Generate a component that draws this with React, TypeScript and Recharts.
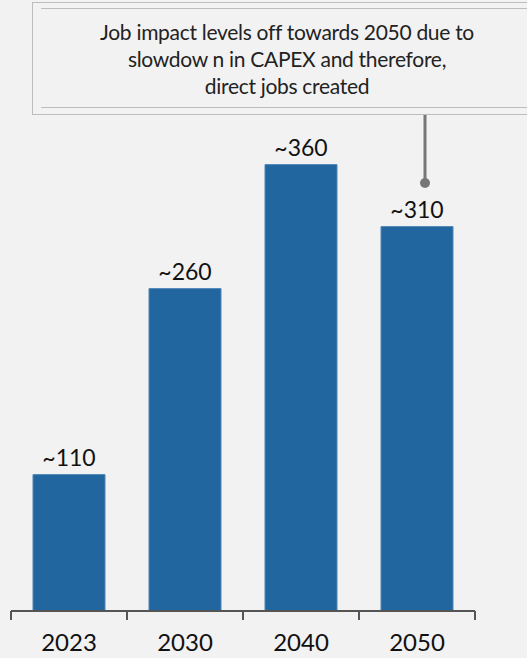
import { BarChart, Bar, XAxis, YAxis, LabelList } from "recharts";

const years = ["2023", "2030", "2040", "2050"];
const jobs = [110, 260, 360, 310];
const labels = ["~110", "~260", "~360", "~310"];
const noteLines = [
  "Job impact levels off towards 2050 due to",
  "slowdow n in CAPEX and therefore,",
  "direct jobs created",
];

const data = years.map((year, i) => ({ year, jobs: jobs[i], label: labels[i] }));

const FONT = "Lato, 'Open Sans', sans-serif";

function YearTick(props: any) {
  const { x, y, payload, index, visibleTicksCount, width } = props;
  const half = payload.offset || width / visibleTicksCount / 2;
  const axisY = y - 8;
  return (
    <g>
      <line x1={x - half} x2={x - half} y1={axisY} y2={axisY + 9} stroke="#555" strokeWidth={2} />
      {index === visibleTicksCount - 1 && (
        <line x1={x + half} x2={x + half} y1={axisY} y2={axisY + 9} stroke="#555" strokeWidth={2} />
      )}
      <text x={x} y={axisY + 40} textAnchor="middle" fontSize={24} fill="#111" fontFamily={FONT}>
        {payload.value}
      </text>
    </g>
  );
}

export default function App() {
  return (
    <div style={{ position: "absolute", left: 0, top: 0, width: 527, height: 658, background: "#f2f2f2", overflow: "hidden" }}>
      <BarChart width={527} height={658} data={data} margin={{ top: 115, right: 52, left: 11, bottom: 17 }}>
        <YAxis hide domain={[0, 400]} />
        <XAxis
          dataKey="year"
          height={30}
          axisLine={{ stroke: "#555", strokeWidth: 2 }}
          tickLine={false}
          tick={<YearTick />}
          interval={0}
        />
        <Bar dataKey="jobs" fill="#22669f" stroke="#4f86b8" strokeWidth={1} barSize={72} isAnimationActive={false}>
          <LabelList dataKey="label" position="top" offset={9} fontSize={23} fill="#111" fontFamily={FONT} />
        </Bar>
      </BarChart>

      {/* annotation box */}
      <div
        style={{
          position: "absolute", left: 32, top: 2, width: 520, height: 113,
          border: "1px solid #bdbdbd", background: "#f2f2f2", boxSizing: "border-box",
        }}
      >
        <div
          style={{
            position: "absolute", left: 8, right: 0, top: 5, bottom: 6,
            borderTop: "1px solid #bdbdbd", borderBottom: "1px solid #bdbdbd",
            display: "flex", flexDirection: "column", justifyContent: "center", alignItems: "center",
          }}
        >
          {noteLines.map((t) => (
            <div key={t} style={{ fontFamily: FONT, fontSize: 21, lineHeight: "27px", color: "#222", marginLeft: -18, letterSpacing: -0.3 }}>
              {t}
            </div>
          ))}
        </div>
      </div>
      <svg style={{ position: "absolute", left: 0, top: 0 }} width={527} height={658}>
        <line x1={425} x2={425} y1={115} y2={182} stroke="#777" strokeWidth={3} />
        <circle cx={425} cy={183} r={5} fill="#777" />
      </svg>
    </div>
  );
}
